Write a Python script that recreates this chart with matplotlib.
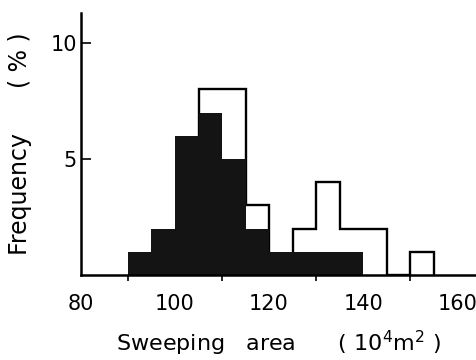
import numpy as np
import matplotlib
matplotlib.use('Agg')
import matplotlib.pyplot as plt

plt.rcParams['font.family'] = ['DejaVu Sans']

# bin edges (10^4 m^2), 5-unit bins
edges_filled = [90, 95, 100, 105, 110, 115, 120, 125, 130, 135, 140]
freq_filled = [1, 2, 6, 7, 5, 2, 1, 1, 1, 1]

edges_open = [105, 110, 115, 120, 125, 130, 135, 140, 145, 150, 155]
freq_open = [8, 8, 3, 0, 2, 4, 2, 2, 0, 1]

xticks_major = [80, 100, 120, 140, 160]
xticks_minor = [90, 100, 110, 120, 130, 140, 150, 160]
yticks = [5, 10]

fig = plt.figure(figsize=(4.76, 3.6), dpi=100)
ax = fig.add_axes([0.170, 0.236, 0.83, 0.728])

# open histogram behind (outline only, no inner edges)
ax.stairs(freq_open, edges_open, fill=True, facecolor='white', zorder=1)
ax.stairs(freq_open, edges_open, color='black', linewidth=1.7, baseline=0, zorder=1.5)
# filled histogram on top
ax.stairs(freq_filled, edges_filled, fill=True, facecolor='#141414',
          edgecolor='#141414', zorder=2)

ax.set_xlim(80, 164)
ax.set_ylim(0, 11.3)
ax.spines['top'].set_visible(False)
ax.spines['right'].set_visible(False)
ax.spines['left'].set_linewidth(1.8)
ax.spines['bottom'].set_linewidth(1.8)
ax.spines['left'].set_zorder(3)
ax.spines['bottom'].set_zorder(3)

ax.set_xticks(xticks_major)
ax.set_xticks(xticks_minor, minor=True)
ax.tick_params(axis='x', which='major', length=0, labelsize=15, pad=14)
ax.tick_params(axis='x', which='minor', length=4, width=1.2, direction='out')
ax.set_yticks(yticks)
ax.tick_params(axis='y', length=7, width=1.2, direction='in', labelsize=15, pad=3)

ax.set_xlabel('Sweeping   area      ( 10$^4$m$^2$ )', fontsize=16, labelpad=10)
ax.set_ylabel('Frequency      ( % )', fontsize=17)
ax.yaxis.set_label_coords(-0.125, 0.5)

fig.savefig('out.png', dpi=100)
